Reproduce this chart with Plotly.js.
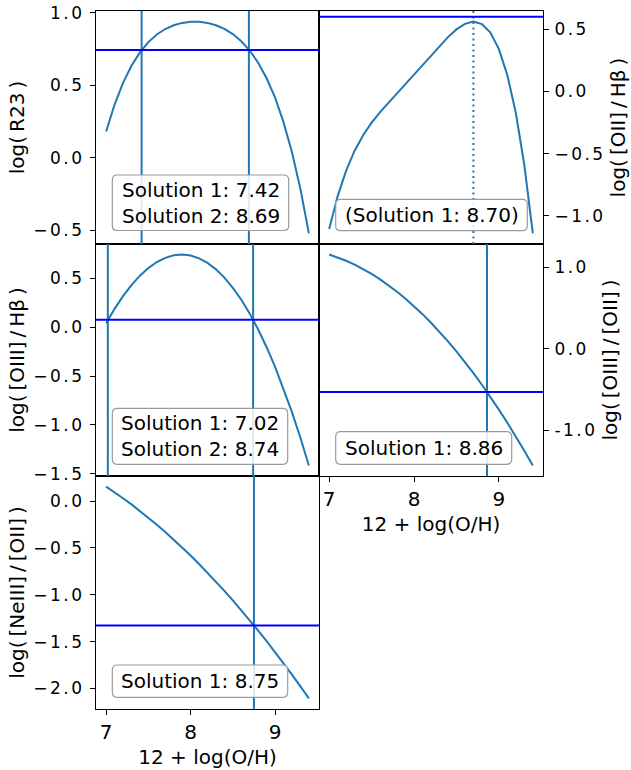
<!DOCTYPE html>
<html>
<head>
<meta charset="utf-8">
<script src="https://cdn.plot.ly/plotly-3.0.1.min.js"></script>
<style>
html, body { margin: 0; padding: 0; background: #ffffff; }
#chart { width: 631px; height: 770px; }
g.ytick text, g.y2tick text, g.y3tick text, g.y4tick text, g.y5tick text { letter-spacing: 2.5px; }
</style>
</head>
<body>
<div id="chart"></div>
<script>
// ---------------- data ----------------
const xGrid = [7.0, 7.1, 7.2, 7.3, 7.4, 7.5, 7.6, 7.7, 7.8, 7.9, 8.0, 8.1, 8.2, 8.3, 8.4, 8.5, 8.6, 8.7, 8.8, 8.9, 9.0, 9.1, 9.2, 9.3, 9.4];

const r23 = [0.181, 0.367, 0.516, 0.634, 0.726, 0.797, 0.849, 0.887, 0.913, 0.929, 0.937, 0.937, 0.929, 0.913, 0.888, 0.852, 0.803, 0.739, 0.655, 0.548, 0.414, 0.246, 0.038, -0.214, -0.520];
const oiiHb = [-1.106, -0.842, -0.637, -0.477, -0.352, -0.252, -0.167, -0.091, -0.018, 0.054, 0.129, 0.206, 0.285, 0.363, 0.436, 0.498, 0.543, 0.561, 0.541, 0.472, 0.340, 0.130, -0.174, -0.592, -1.142];
const oiiiHb = [0.042, 0.189, 0.319, 0.433, 0.529, 0.607, 0.669, 0.712, 0.738, 0.746, 0.736, 0.707, 0.660, 0.594, 0.509, 0.405, 0.282, 0.140, -0.022, -0.204, -0.406, -0.628, -0.870, -1.133, -1.416];
const oiiiOii = [1.156, 1.121, 1.080, 1.033, 0.979, 0.919, 0.852, 0.779, 0.700, 0.615, 0.523, 0.425, 0.320, 0.209, 0.092, -0.032, -0.162, -0.298, -0.440, -0.589, -0.745, -0.906, -1.074, -1.249, -1.429];
const neiiiOii = [0.155, 0.095, 0.031, -0.035, -0.104, -0.177, -0.252, -0.330, -0.411, -0.495, -0.581, -0.671, -0.764, -0.860, -0.958, -1.060, -1.164, -1.272, -1.382, -1.495, -1.612, -1.731, -1.853, -1.978, -2.106];

// observed ratios (horizontal lines)
const r23Obs = 0.743;
const oiiHbObs = 0.600;
const oiiiHbObs = 0.077;
const oiiiOiiObs = -0.529;
const neiiiOiiObs = -1.327;

// solutions (vertical lines)
const r23Sol = [7.42, 8.69];
const oiiHbSol = [8.70];
const oiiiHbSol = [7.02, 8.74];
const oiiiOiiSol = [8.86];
const neiiiOiiSol = [8.75];

// tick labels
const xTickVals = [7, 8, 9];
const xTickText = ['7', '8', '9'];
const oiiiOiiTickVals = [1, 0, -1];
const oiiiOiiTickText = ['1.0', '0.0', '-1.0'];

// axis labels
const xLabel = '12 + log(O/H)';
const yLabels = ['log(\u2009R23\u2009)', 'log(\u2009[OII]\u2009/\u2009H\u03b2\u2009)', 'log(\u2009[OIII]\u2009/\u2009H\u03b2\u2009)', 'log(\u2009[OIII]\u2009/\u2009[OII]\u2009)', 'log(\u2009[NeIII]\u2009/\u2009[OII]\u2009)'];

// ---------------- figure ----------------
const C0 = '#1f77b4';
const OBS = '#0000ff';
const FONT = 'DejaVu Sans';

const ML = 96, MR = 88, MT = 11, MB = 61, W = 631, H = 770;
const PW = W - ML - MR, PH = H - MT - MB;
const fx = px => (px - ML) / PW;
const fy = py => (H - MB - py) / PH;

const colL = [0, fx(319)], colR = [fx(319), 1];
const row1 = [fy(244), 1], row2 = [fy(476), fy(244)], row3 = [0, fy(476)];

function curve(y, n) {
  return { x: xGrid, y: y, xaxis: 'x' + n, yaxis: 'y' + n, type: 'scatter', mode: 'lines',
           line: { color: C0, width: 2 }, hoverinfo: 'skip', showlegend: false };
}
const data = [curve(r23, ''), curve(oiiHb, '2'), curve(oiiiHb, '3'), curve(oiiiOii, '4'), curve(neiiiOii, '5')];

const shapes = [];
function hline(n, v) {
  shapes.push({ type: 'line', xref: 'x' + n + ' domain', x0: 0, x1: 1, yref: 'y' + n, y0: v, y1: v,
                line: { color: OBS, width: 2 } });
}
function vlines(n, sols, dash) {
  sols.forEach(s => shapes.push({ type: 'line', xref: 'x' + n, x0: s, x1: s, yref: 'y' + n + ' domain', y0: 0, y1: 1,
                                  line: { color: C0, width: 2, dash: dash || 'solid' } }));
}
vlines('', r23Sol); hline('', r23Obs);
vlines('2', oiiHbSol, '2px,3.5px'); hline('2', oiiHbObs);
vlines('3', oiiiHbSol); hline('3', oiiiHbObs);
vlines('4', oiiiOiiSol); hline('4', oiiiOiiObs);
vlines('5', neiiiOiiSol); hline('5', neiiiOiiObs);

const annotations = [];
function box(x0, y0, x1, y1, text) {
  const r = 5;
  const P = (a, b) => fx(a) + ',' + fy(b);
  const path = 'M' + P(x0 + r, y0) + ' L' + P(x1 - r, y0) + ' Q' + P(x1, y0) + ' ' + P(x1, y0 + r) +
               ' L' + P(x1, y1 - r) + ' Q' + P(x1, y1) + ' ' + P(x1 - r, y1) +
               ' L' + P(x0 + r, y1) + ' Q' + P(x0, y1) + ' ' + P(x0, y1 - r) +
               ' L' + P(x0, y0 + r) + ' Q' + P(x0, y0) + ' ' + P(x0 + r, y0) + ' Z';
  shapes.push({ type: 'path', xref: 'paper', yref: 'paper', path: path, layer: 'above',
                fillcolor: 'rgba(255,255,255,0.85)', line: { color: '#9a9a9a', width: 1.2 } });
  annotations.push({ xref: 'paper', yref: 'paper', x: fx((x0 + x1) / 2), y: fy((y0 + y1) / 2),
                     xanchor: 'center', yanchor: 'middle', showarrow: false, text: text,
                     font: { family: FONT, size: 20, color: '#000' } });
}
const sol = (i, v) => 'Solution ' + i + ': ' + v.toFixed(2);
box(112.3, 175, 288.7, 230.5, sol(1, r23Sol[0]) + '<br>' + sol(2, r23Sol[1]));
box(335.7, 199.3, 527.3, 230.7, '(' + sol(1, oiiHbSol[0]) + ')');
box(112.3, 408.3, 287.7, 464.3, sol(1, oiiiHbSol[0]) + '<br>' + sol(2, oiiiHbSol[1]));
box(335.7, 431.7, 511.7, 464.3, sol(1, oiiiOiiSol[0]));
box(112.3, 665, 287.7, 697.3, sol(1, neiiiOiiSol[0]));

function xax(dom, anchor, labels) {
  const a = { domain: dom, anchor: anchor, range: [6.88, 9.52], tickmode: 'array', tickvals: xTickVals, ticktext: xTickText,
              showline: true, mirror: true, linecolor: '#000', linewidth: 1, showgrid: false, zeroline: false,
              tickfont: { family: FONT, size: 20, color: '#000' } };
  if (labels) {
    Object.assign(a, { ticks: 'outside', ticklen: 5, tickwidth: 1, tickcolor: '#000', showticklabels: true,
                       title: { text: xLabel, font: { family: FONT, size: 20, color: '#000' }, standoff: 6 } });
  } else {
    Object.assign(a, { ticks: '', showticklabels: false });
  }
  return a;
}
function yax(dom, anchor, range, side, title, extra) {
  const a = { domain: dom, anchor: anchor, range: range, side: side, tickmode: 'linear', tick0: 0, dtick: 0.5, tickformat: '.1f',
              ticks: 'outside', ticklen: 5, tickwidth: 1, tickcolor: '#000', ticklabelstandoff: 2,
              showline: true, mirror: true, linecolor: '#000', linewidth: 1, showgrid: false, zeroline: false,
              tickfont: { family: FONT, size: 17, color: '#000' },
              title: { text: title, font: { family: FONT, size: 20, color: '#000' }, standoff: side === 'left' ? 3 : 4 } };
  return Object.assign(a, extra || {});
}

const layout = {
  width: W, height: H,
  margin: { l: ML, r: MR, t: MT, b: MB, pad: 0 },
  paper_bgcolor: '#fff', plot_bgcolor: '#fff',
  font: { family: FONT, size: 20, color: '#000' },
  showlegend: false,
  xaxis: xax(colL, 'y', false),
  yaxis: yax(row1, 'x', [-0.593, 1.011], 'left', yLabels[0]),
  xaxis2: xax(colR, 'y2', false),
  yaxis2: yax(row1, 'x2', [-1.227, 0.646], 'right', yLabels[1]),
  xaxis3: xax(colL, 'y3', false),
  yaxis3: yax(row2, 'x3', [-1.5245, 0.854], 'left', yLabels[2]),
  xaxis4: xax(colR, 'y4', true),
  yaxis4: yax(row2, 'x4', [-1.559, 1.285], 'right', yLabels[3], { tickmode: 'array', tickvals: oiiiOiiTickVals, ticktext: oiiiOiiTickText }),
  xaxis5: xax(colL, 'y5', true),
  yaxis5: yax(row3, 'x5', [-2.219, 0.268], 'left', yLabels[4]),
  shapes: shapes,
  annotations: annotations
};

Plotly.newPlot('chart', data, layout, { staticPlot: true, displayModeBar: false });
</script>
</body>
</html>
